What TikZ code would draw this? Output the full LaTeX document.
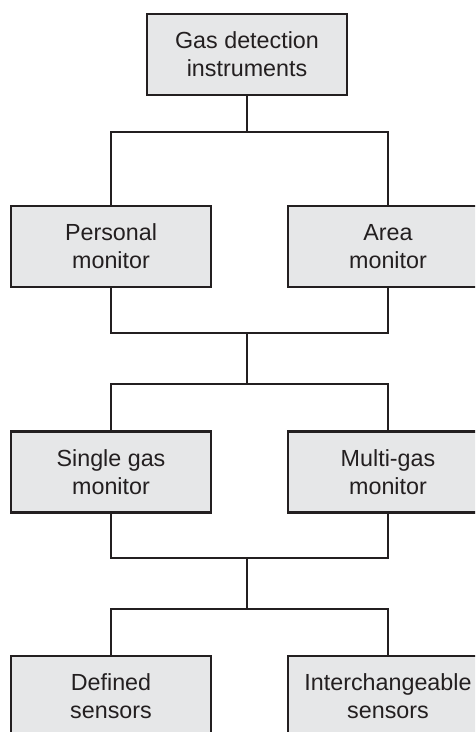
\documentclass[tikz,border=0pt]{standalone}
\usepackage{fontspec}
\setmainfont{Liberation Sans}
\definecolor{boxgray}{RGB}{230,231,232}
\definecolor{linegray}{RGB}{35,31,32}
\tikzstyle{levelBox} = [
 rectangle,
 draw=linegray,
 line width=2.6pt,
 fill=boxgray,
 align = center,
 text=linegray,
 minimum width = 200pt,
 minimum height = 81pt,
 inner sep = 0pt,
 font = \fontsize{23.3}{28}\selectfont
]
\tikzstyle{busLine} = [
 draw=linegray,
 line width=2.6pt
]
\begin{document}
\begin{tikzpicture}[x=1pt, y=-1pt]
  \clip (0,0) rectangle (475,732);
  \fill[white] (0,0) rectangle (475,732);
  % boxes
  \node [levelBox] (gas) at (247,54.5) {Gas detection\\instruments};
  \node [levelBox] (personal) at (111,246.5) {Personal\\monitor};
  \node [levelBox] (area) at (388,246.5) {Area\\monitor};
  \node [levelBox] (single) at (111,472) {Single gas\\monitor};
  \node [levelBox] (multi) at (388,472) {Multi-gas\\monitor};
  \node [levelBox] (defined) at (111,696.5) {Defined\\sensors};
  \node [levelBox] (inter) at (388,696.5) {Interchangeable\\sensors};
  % bus points
  \coordinate (split1) at (247,132);
  \coordinate (merge1) at (247,333);
  \coordinate (split2) at (247,384);
  \coordinate (merge2) at (247,558);
  \coordinate (split3) at (247,609);
  % connectors
  \draw [busLine] (gas.south) -- (split1);
  \draw [busLine] (personal.north) |- (split1) -| (area.north);
  \draw [busLine] (personal.south) |- (merge1) -| (area.south);
  \draw [busLine] (merge1) -- (split2);
  \draw [busLine] (single.north) |- (split2) -| (multi.north);
  \draw [busLine] (single.south) |- (merge2) -| (multi.south);
  \draw [busLine] (merge2) -- (split3);
  \draw [busLine] (defined.north) |- (split3) -| (inter.north);
\end{tikzpicture}
\end{document}
